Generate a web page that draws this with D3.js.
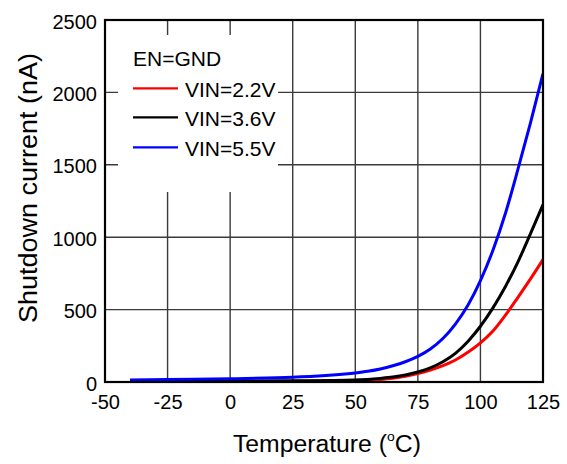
<!DOCTYPE html>
<html>
<head>
<meta charset="utf-8">
<script src="https://cdn.jsdelivr.net/npm/d3@7"></script>
<style>
  html, body { margin: 0; padding: 0; background: #fff; }
  svg { display: block; font-family: "Liberation Sans", Arial, sans-serif; }
</style>
</head>
<body>
<svg id="chart" width="567" height="464"></svg>
<script>
// ---- data ----
const temperatures = [-40, -25, 0, 25, 50, 55, 60, 65, 70, 75, 80, 85, 90, 95, 100, 105, 110, 115, 120, 125];
const vin22 = [2, 3, 3, 5, 10, 13, 18, 26, 39, 58, 82, 113, 152, 205, 270, 352, 462, 585, 712, 845];
const vin36 = [4, 5, 6, 8, 14, 18, 25, 34, 48, 69, 98, 140, 198, 280, 385, 512, 660, 830, 1025, 1225];
const vin55 = [14, 17, 23, 33, 62, 74, 90, 112, 140, 177, 228, 300, 400, 530, 700, 910, 1165, 1470, 1790, 2130];
const seriesNames = ["VIN=2.2V", "VIN=3.6V", "VIN=5.5V"];
const seriesColors = ["#ff0000", "#000000", "#0000ff"];
const xTicks = [-50, -25, 0, 25, 50, 75, 100, 125];
const yTicks = [0, 500, 1000, 1500, 2000, 2500];
const legendTitle = "EN=GND";
const xTitle = "Temperature (";
const yTitle = "Shutdown current (nA)";

const seriesValues = [vin22, vin36, vin55];

// ---- layout ----
const L = 105, R = 543, T = 20, B = 382;
const svg = d3.select("#chart");
const x = d3.scaleLinear().domain([-50, 125]).range([L, R]);
const y = d3.scaleLinear().domain([0, 2500]).range([B, T]);
const fmt = d => String(d);

// grid
const grid = svg.append("g").attr("stroke", "#3a3a3a").attr("stroke-width", 1.4);
grid.selectAll("line.v").data(xTicks.slice(1, -1)).join("line")
  .attr("x1", d => x(d)).attr("x2", d => x(d)).attr("y1", T).attr("y2", B);
grid.selectAll("line.h").data(yTicks.slice(1, -1)).join("line")
  .attr("x1", L).attr("x2", R).attr("y1", d => y(d)).attr("y2", d => y(d));

// legend background box (covers grid)
svg.append("rect").attr("x", 118).attr("y", 35).attr("width", 160).attr("height", 157).attr("fill", "#fff");

// axes (labels only)
const xAxis = d3.axisBottom(x).tickValues(xTicks).tickSize(0).tickPadding(0).tickFormat(fmt);
const gx = svg.append("g").attr("transform", `translate(0,${B})`).call(xAxis);
gx.select(".domain").remove();
gx.selectAll("text").attr("dy", null).attr("y", 27).attr("font-size", 20)
  .attr("font-family", "Liberation Sans, Arial, sans-serif").attr("fill", "#000");

const yAxis = d3.axisLeft(y).tickValues(yTicks).tickSize(0).tickPadding(0).tickFormat(fmt);
const gy = svg.append("g").attr("transform", `translate(${L},0)`).call(yAxis);
gy.select(".domain").remove();
gy.selectAll("text").attr("dy", null).attr("x", -8).attr("y", 8).attr("font-size", 20)
  .attr("font-family", "Liberation Sans, Arial, sans-serif").attr("fill", "#000");

// curves
svg.append("clipPath").attr("id", "clip").append("rect")
  .attr("x", L).attr("y", T).attr("width", R - L).attr("height", B - T);
const line = d3.line().x(d => x(d[0])).y(d => y(d[1])).curve(d3.curveMonotoneX);
const curves = svg.append("g").attr("clip-path", "url(#clip)");
seriesValues.forEach((vals, i) => {
  curves.append("path")
    .attr("d", line(temperatures.map((t, j) => [t, vals[j]])))
    .attr("fill", "none").attr("stroke", seriesColors[i]).attr("stroke-width", 3);
});

// frame
svg.append("rect").attr("x", L).attr("y", T).attr("width", R - L).attr("height", B - T)
  .attr("fill", "none").attr("stroke", "#000").attr("stroke-width", 2.2);

// legend
svg.append("text").attr("x", 133).attr("y", 66).attr("font-size", 21).text(legendTitle);
const legRows = [88.3, 117.3, 147.3];
seriesNames.forEach((name, i) => {
  svg.append("line").attr("x1", 133).attr("x2", 178).attr("y1", legRows[i]).attr("y2", legRows[i])
    .attr("stroke", seriesColors[i]).attr("stroke-width", 2.2);
  svg.append("text").attr("x", 185).attr("y", legRows[i] + 8.8).attr("font-size", 21).text(name);
});

// titles, fitted to the measured extents
function fit(g, target) {
  const t = g.select("text");
  const w = t.node().getBBox().width;
  return w > 0 ? target / w : 1;
}
const gxT = svg.append("g");
const xt = gxT.append("text").attr("x", 0).attr("y", 0).attr("font-size", 23);
xt.append("tspan").text(xTitle);
xt.append("tspan").attr("font-size", 13).attr("dy", -11).text("o");
xt.append("tspan").attr("dy", 11).text("C)");
const sx = fit(gxT, 188);
gxT.attr("transform", `translate(233,451.5) scale(${sx},1)`);

const gyT = svg.append("g");
gyT.append("text").attr("x", 0).attr("y", 0).attr("font-size", 26).attr("text-anchor", "middle").text(yTitle);
const sy = fit(gyT, 270);
gyT.attr("transform", `translate(36.5,188) rotate(-90) scale(${sy},1)`);
</script>
</body>
</html>
